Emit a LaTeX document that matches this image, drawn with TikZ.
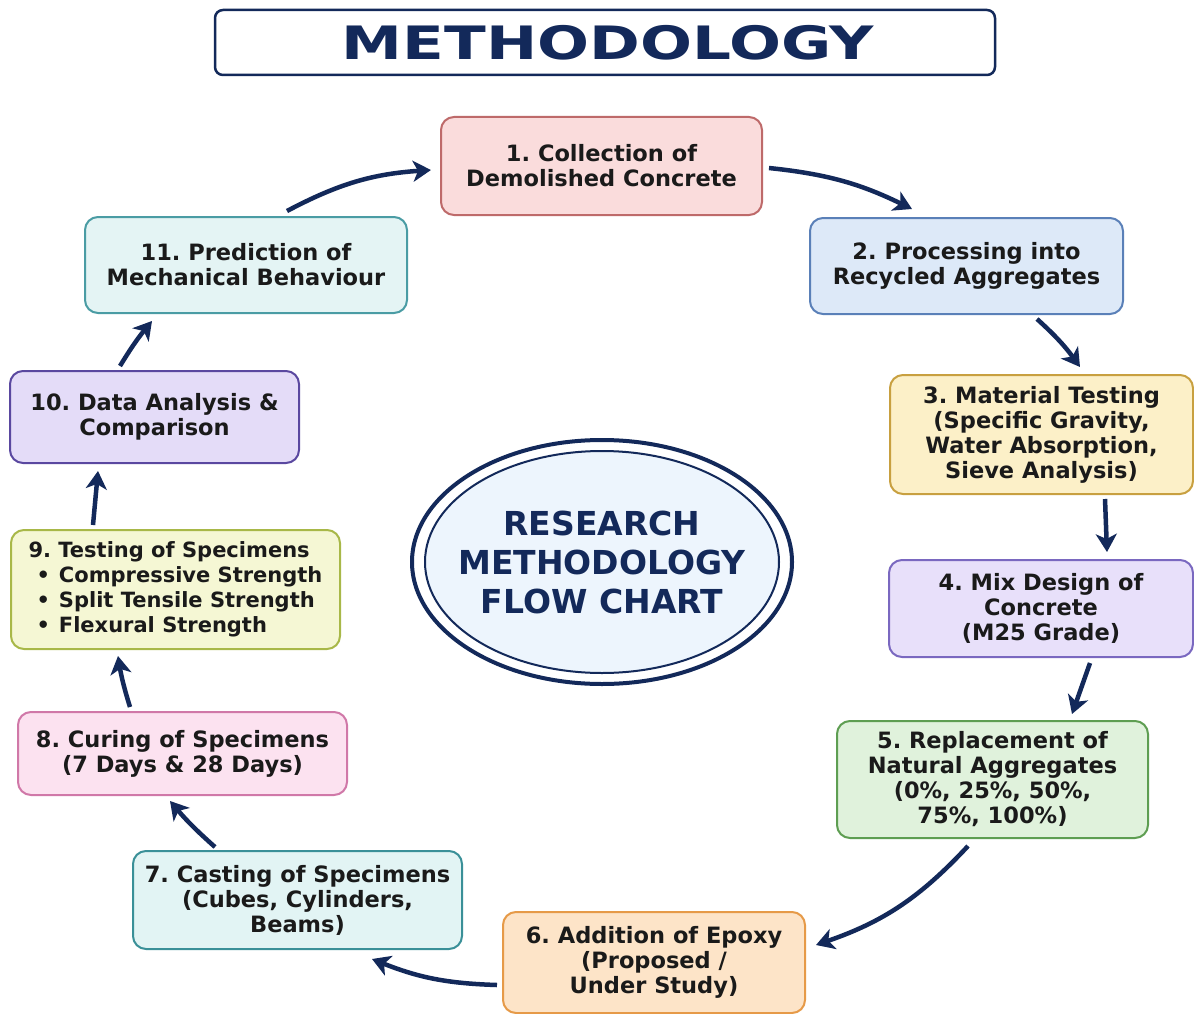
\documentclass[tikz,border=0pt]{standalone}
\usepackage{fontspec}
\setmainfont{DejaVu Sans}
\frenchspacing
\usetikzlibrary{arrows.meta,shapes.geometric}
\definecolor{navy}{HTML}{13295A}
\definecolor{txt}{HTML}{1A1A1A}
\definecolor{f1}{HTML}{FADCDC}\definecolor{d1}{HTML}{BE6A6A}
\definecolor{f2}{HTML}{DDE9F8}\definecolor{d2}{HTML}{5A80B8}
\definecolor{f3}{HTML}{FCF0C8}\definecolor{d3}{HTML}{C8A040}
\definecolor{f4}{HTML}{E8E0FA}\definecolor{d4}{HTML}{7A68C0}
\definecolor{f5}{HTML}{E0F2DC}\definecolor{d5}{HTML}{5E9E52}
\definecolor{f6}{HTML}{FDE4C8}\definecolor{d6}{HTML}{E69A48}
\definecolor{f7}{HTML}{E2F4F4}\definecolor{d7}{HTML}{3A9098}
\definecolor{f8}{HTML}{FCE2F0}\definecolor{d8}{HTML}{D078A8}
\definecolor{f9}{HTML}{F5F7D4}\definecolor{d9}{HTML}{A8B848}
\definecolor{f10}{HTML}{E4DCF8}\definecolor{d10}{HTML}{5A48A0}
\definecolor{f11}{HTML}{E4F4F4}\definecolor{d11}{HTML}{4A9CA4}
\definecolor{ellfill}{HTML}{EDF5FD}
\tikzset{
  stepbox/.style={rectangle, rounded corners=13pt, line width=2pt, inner sep=0pt,
    align=center, text=txt, font=\bfseries\fontsize{22.5}{25}\selectfont},
  arr/.style={draw=navy, line width=4.5pt, -{Stealth[length=18pt,width=21pt,inset=5pt]}},
}
\begin{document}
\begin{tikzpicture}[x=1pt,y=1pt]
\useasboundingbox (0,0) rectangle (1194,-1014);
\fill[white] (0,0) rectangle (1194,-1014);
% title
\node[draw=navy, line width=2.5pt, rounded corners=8pt, minimum width=780pt, minimum height=65pt, inner sep=0pt] (title) at (605,-42.5) {};
\node[text=navy, font=\bfseries\fontsize{46}{50}\selectfont] (titletext) at (608,-43) {\scalebox{1.33}[1]{METHODOLOGY}};
% centre ellipse
\draw[navy, line width=4pt, fill=white] (602,-562) ellipse [x radius=190pt, y radius=122pt];
\draw[navy, line width=2pt, fill=ellfill] (602,-562) ellipse [x radius=177pt, y radius=111pt];
\node[align=center, text=navy, font=\bfseries\fontsize{33}{39}\selectfont] (centre) at (602,-562) {RESEARCH\\METHODOLOGY\\FLOW CHART};
% boxes
\node[stepbox, fill=f1, draw=d1, minimum width=321pt, minimum height=98pt] (n1) at (601.5,-166) {1. Collection of\\Demolished Concrete};
\node[stepbox, fill=f2, draw=d2, minimum width=313pt, minimum height=96pt] (n2) at (966.5,-266) {2. Processing into\\Recycled Aggregates};
\node[stepbox, fill=f3, draw=d3, minimum width=303pt, minimum height=119pt] (n3) at (1041.5,-434.5) {3. Material Testing\\(Specific Gravity,\\Water Absorption,\\Sieve Analysis)};
\node[stepbox, fill=f4, draw=d4, minimum width=304pt, minimum height=97pt] (n4) at (1041,-608.5) {4. Mix Design of\\Concrete\\(M25 Grade)};
\node[stepbox, fill=f5, draw=d5, minimum width=311pt, minimum height=117pt] (n5) at (992.5,-779.5) {5. Replacement of\\Natural Aggregates\\(0\%, 25\%, 50\%,\\75\%, 100\%)};
\node[stepbox, fill=f6, draw=d6, minimum width=302pt, minimum height=101pt] (n6) at (654,-962.5) {6. Addition of Epoxy\\(Proposed /\\Under Study)};
\node[stepbox, fill=f7, draw=d7, minimum width=329pt, minimum height=98pt] (n7) at (297.5,-900) {7. Casting of Specimens\\(Cubes, Cylinders,\\Beams)};
\node[stepbox, fill=f8, draw=d8, minimum width=329pt, minimum height=83pt] (n8) at (182.5,-753.5) {8. Curing of Specimens\\(7 Days \& 28 Days)};
\node[stepbox, fill=f9, draw=d9, minimum width=329pt, minimum height=119pt, align=left, font=\bfseries\fontsize{21}{25}\selectfont] (n9) at (175.5,-589.5) {9. Testing of Specimens\\\hspace*{8pt}\textbullet\hspace{9pt}Compressive Strength\\\hspace*{8pt}\textbullet\hspace{9pt}Split Tensile Strength\\\hspace*{8pt}\textbullet\hspace{9pt}Flexural Strength};
\node[stepbox, fill=f10, draw=d10, minimum width=289pt, minimum height=92pt] (n10) at (154.5,-417) {10. Data Analysis \&\\Comparison};
\node[stepbox, fill=f11, draw=d11, minimum width=322pt, minimum height=96pt] (n11) at (246,-265) {11. Prediction of\\Mechanical Behaviour};
% connectors
\draw[arr] ([xshift=41pt,yshift=5pt]n11.north) to[bend left=12] ([xshift=-9pt,yshift=-4pt]n1.west);
\draw[arr] ([xshift=6pt,yshift=-2pt]n1.east) to[bend left=10] ([xshift=-54.5pt,yshift=8pt]n2.north);
\draw[arr] ([xshift=70.5pt,yshift=-4pt]n2.south) to[bend left=6] ([xshift=38.5pt,yshift=7pt]n3.north);
\draw[arr] ([xshift=63.5pt,yshift=-4pt]n3.south) -- ([xshift=66pt,yshift=7pt]n4.north);
\draw[arr] ([xshift=49pt,yshift=-5pt]n4.south) -- ([xshift=79.5pt,yshift=6pt]n5.north);
\draw[arr] ([xshift=-24.5pt,yshift=-7pt]n5.south) to[bend left=14] ([xshift=10pt,yshift=17.5pt]n6.east);
\draw[arr] ([xshift=-5pt,yshift=-22.5pt]n6.west) to[bend left=10] ([xshift=74.5pt,yshift=-9pt]n7.south);
\draw[arr] ([xshift=-82.5pt,yshift=3pt]n7.north) to[bend left=4] ([xshift=-12.5pt,yshift=-5pt]n8.south);
\draw[arr] ([xshift=-52.5pt,yshift=4pt]n8.north) to[bend left=4] ([xshift=-57.5pt,yshift=-6pt]n9.south);
\draw[arr] ([xshift=-82.5pt,yshift=4pt]n9.north) -- ([xshift=-56.5pt,yshift=-7pt]n10.south);
\draw[arr] ([xshift=-34.5pt,yshift=4pt]n10.north) to[bend left=4] ([xshift=-94pt,yshift=-7pt]n11.south);
\end{tikzpicture}
\end{document}
